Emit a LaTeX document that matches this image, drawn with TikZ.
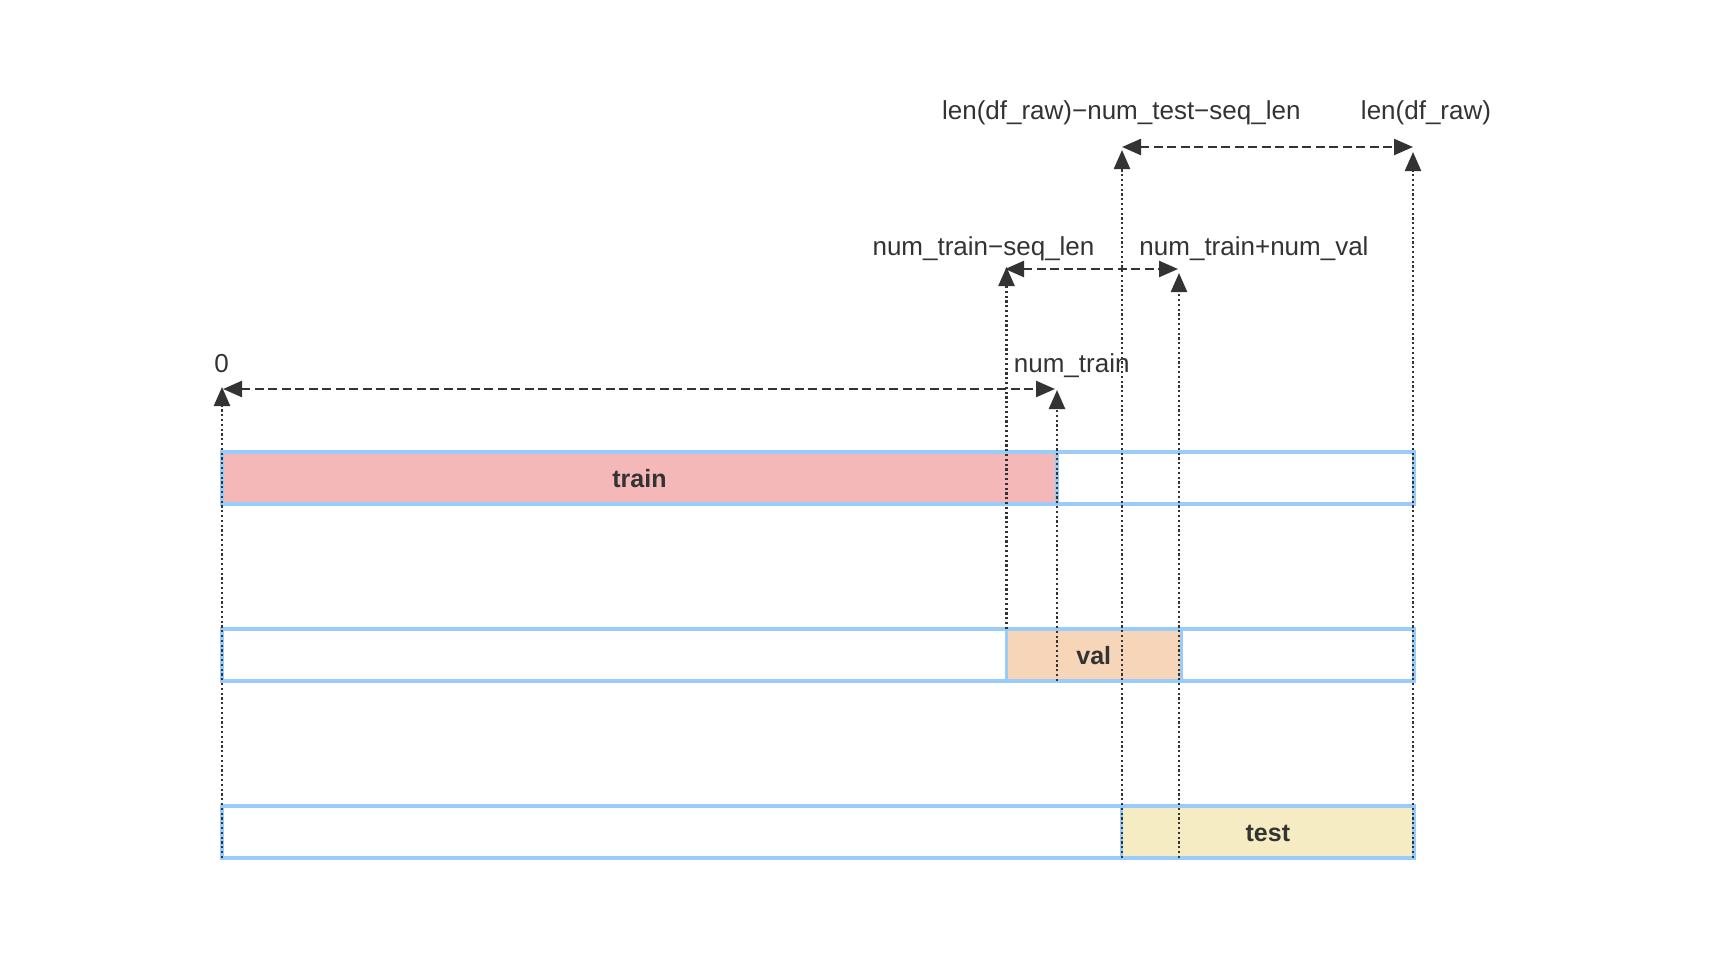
\documentclass[tikz,border=0pt]{standalone}
\usepackage{fontspec}
\setmainfont{Liberation Sans}
\usetikzlibrary{arrows.meta}
\definecolor{bordblue}{RGB}{153,204,250}
\definecolor{trainfill}{RGB}{244,184,184}
\definecolor{valfill}{RGB}{247,213,184}
\definecolor{testfill}{RGB}{245,236,196}
\definecolor{ink}{RGB}{51,51,51}
\begin{document}
\begin{tikzpicture}[x=1pt,y=-1pt,
  seg/.style={draw=bordblue, line width=3.5pt, minimum height=52pt, inner sep=0pt, outer sep=0pt, text=ink, text height=18pt, text depth=0pt, font=\fontsize{25}{30}\selectfont\bfseries},
  lbl/.style={anchor=base, text=ink, inner sep=0pt, font=\fontsize{26}{31}\selectfont},
  harrow/.style={draw=ink, line width=2.4pt, dash pattern=on 9pt off 4.5pt, {Triangle[length=19pt,width=16pt]}-{Triangle[length=19pt,width=16pt]}},
  vdot/.style={draw=ink, line width=2.4pt, dash pattern=on 2.2pt off 2.6pt, -{Triangle[length=19pt,width=16pt]}}
]
\useasboundingbox[fill=white] (0,0) rectangle (1734,978);

% bar 1
\node[seg, fill=trainfill, minimum width=835pt] (train) at (639.5,478) {train};
\node[seg, fill=white, minimum width=357pt] (rest1) at (1235.5,478) {};
% bar 2
\node[seg, fill=white, minimum width=784.3pt] (pre2) at (614.15,655) {};
\node[seg, fill=white, minimum width=232.7pt] (post2) at (1297.65,655) {};
\node[seg, fill=valfill, minimum width=175pt] (val) at (1093.8,655) {val};
% bar 3
\node[seg, fill=white, minimum width=899.7pt] (pre3) at (671.85,832) {};
\node[seg, fill=testfill, minimum width=292.3pt] (test) at (1267.85,832) {test};

% coordinates
\coordinate (v0) at (222,387);
\coordinate (v1) at (1057,390);
\coordinate (v1b) at (1057,681);
\coordinate (v2) at (1006.5,267);
\coordinate (v2b) at (1006.5,629);
\coordinate (v3) at (1179,273);
\coordinate (v3b) at (1179,858);
\coordinate (v4) at (1122,150);
\coordinate (v4b) at (1122,858);
\coordinate (v5) at (1413,152);
\coordinate (v5b) at (1413,858);

\coordinate (h0a) at (223,389);
\coordinate (h0b) at (1055,389);
\coordinate (h1a) at (1005,269);
\coordinate (h1b) at (1178,269);
\coordinate (h2a) at (1122,147);
\coordinate (h2b) at (1413,147);

% dotted vertical arrows
\draw[vdot] (pre3.south west) -- (v0);
\draw[vdot] (v1b) -- (v1);
\draw[vdot] (v2b) -- (v2);
\draw[vdot] (v3b) -- (v3);
\draw[vdot] (v4b) -- (v4);
\draw[vdot] (v5b) -- (v5);

% dashed horizontal arrows
\draw[harrow] (h0a) -- (h0b);
\draw[harrow] (h1a) -- (h1b);
\draw[harrow] (h2a) -- (h2b);

% labels
\node[lbl] (l0) at (221.7,372) {0};
\node[lbl] (lnt) at (1071.7,372) {num\_train};
\node[lbl] (lnts) at (983.5,255) {num\_train−seq\_len};
\node[lbl] (lntv) at (1254,255) {num\_train+num\_val};
\node[lbl] (llen2) at (1121.3,119) {len(df\_raw)−num\_test−seq\_len};
\node[lbl] (llen) at (1426,119) {len(df\_raw)};
\end{tikzpicture}
\end{document}
